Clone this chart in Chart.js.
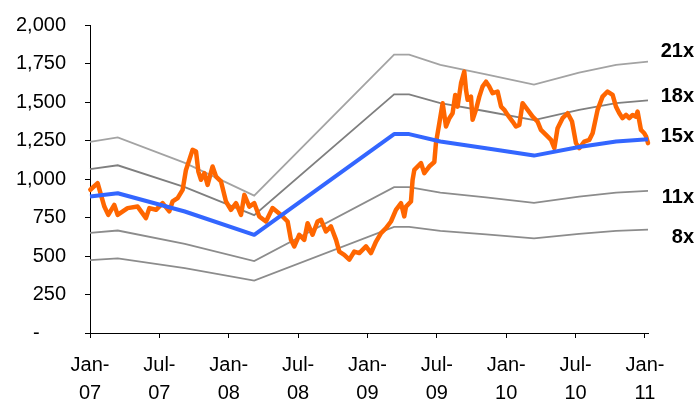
<!DOCTYPE html>
<html>
<head>
<meta charset="utf-8">
<script src="https://cdn.jsdelivr.net/npm/chart.js@4.4.1/dist/chart.umd.min.js"></script>
<style>
  html, body { margin: 0; padding: 0; background: #fff; }
  #wrap { width: 699px; height: 403px; }
</style>
</head>
<body>
<div id="wrap"><canvas id="c" width="699" height="403"></canvas></div>
<script>
// Time is measured in months from Jan-2007.
const tickMonths = [0, 6, 12, 18, 24, 30, 36, 42, 48];
const tickLabels = [["Jan-", "07"], ["Jul-", "07"], ["Jan-", "08"], ["Jul-", "08"], ["Jan-", "09"],
                    ["Jul-", "09"], ["Jan-", "10"], ["Jul-", "10"], ["Jan-", "11"]];
const yTicks = [0, 250, 500, 750, 1000, 1250, 1500, 1750, 2000];

// Forward earnings per share (index points)
const epsMonths = [0, 2.4, 8.2, 14.2, 26.3, 27.6, 30.3, 34.25, 38.4, 42.3, 45.5, 48.26];
const epsValues = [59.1, 60.5, 52.6, 42.5, 86.1, 86.1, 82.9, 80.0, 76.8, 80.5, 82.9, 83.9];

// P/E multiples drawn as bands
const multiples = [21, 18, 15, 11, 8];
const multipleLabels = ["21x", "18x", "15x", "11x", "8x"];

// Index level
const priceMonths = [0.03, 0.66, 1.24, 1.58, 2.10, 2.39, 3.25, 4.12, 4.84, 5.13, 5.71, 6.28, 6.86, 7.14, 7.58,
  8.01, 8.30, 8.59, 8.87, 9.17, 9.37, 9.60, 9.89, 10.17, 10.60, 10.90, 11.33, 11.76, 12.19, 12.63, 13.06,
  13.35, 13.78, 14.21, 14.64, 15.22, 15.79, 16.52, 17.09, 17.38, 17.67, 18.10, 18.53, 18.82, 19.25, 19.68,
  19.98, 20.41, 20.84, 21.28, 21.56, 21.99, 22.43, 22.86, 23.29, 23.87, 24.30, 24.74, 25.17, 25.60, 26.03,
  26.46, 26.90, 27.18, 27.33, 27.76, 27.90, 28.05, 28.63, 28.91, 29.34, 29.78, 29.92, 30.21, 30.50, 30.79,
  31.08, 31.36, 31.59, 31.79, 32.09, 32.37, 32.52, 32.66, 32.95, 33.09, 33.38, 33.67, 33.95, 34.25, 34.53,
  34.82, 35.25, 35.55, 35.83, 36.12, 36.55, 36.84, 37.13, 37.41, 37.85, 38.28, 38.71, 39.00, 39.44, 39.87,
  40.16, 40.44, 40.87, 41.31, 41.69, 42.03, 42.32, 42.75, 43.18, 43.47, 43.90, 44.33, 44.76, 45.20, 45.49,
  45.78, 46.06, 46.36, 46.64, 46.93, 47.22, 47.36, 47.65, 47.94, 48.10, 48.26];
const priceValues = [930, 973, 821, 767, 832, 767, 811, 821, 746, 811, 800, 843, 790, 854, 876,
  930, 1059, 1124, 1189, 1178, 1048, 995, 1038, 962, 1081, 1016, 984, 854, 800, 843, 767,
  897, 821, 843, 757, 724, 811, 767, 724, 605, 562, 638, 605, 713, 638, 724,
  735, 659, 692, 605, 529, 508, 476, 529, 519, 562, 519, 594, 649, 681, 724,
  800, 843, 757, 821, 854, 995, 1059, 1103, 1038, 1081, 1110, 1233, 1362, 1492, 1341,
  1395, 1427, 1546, 1470, 1622, 1697, 1578, 1514, 1535, 1384, 1449, 1535, 1600, 1632, 1600,
  1557, 1568, 1470, 1449, 1416, 1373, 1341, 1351, 1492, 1449, 1405, 1373, 1319, 1286, 1254,
  1200, 1330, 1395, 1427, 1373, 1233, 1200, 1243, 1254, 1297, 1449, 1535, 1568, 1546, 1470,
  1427, 1395, 1416, 1395, 1416, 1405, 1438, 1319, 1297, 1276, 1233];

const FONT = "'Liberation Sans', Arial, sans-serif";
const X_MAX = 48.26;

const toPoints = (xs, ys) => xs.map((x, i) => ({ x: x, y: ys[i] }));

const bandStyles = {
  21: { color: "#a3a3a3", width: 1.8 },
  18: { color: "#7f7f7f", width: 1.8 },
  15: { color: "#3366ff", width: 4 },
  11: { color: "#8c8c8c", width: 1.8 },
  8:  { color: "#8c8c8c", width: 1.8 }
};

const datasets = [];
multiples.forEach((m, i) => {
  if (m === 15) return;
  datasets.push({
    label: multipleLabels[i],
    data: toPoints(epsMonths, epsValues.map(e => e * m)),
    borderColor: bandStyles[m].color,
    borderWidth: bandStyles[m].width,
    pointRadius: 0,
    tension: 0,
    order: 3
  });
});
datasets.push({
  label: "Index",
  data: toPoints(priceMonths, priceValues),
  borderColor: "#ff6600",
  borderWidth: 4.5,
  pointRadius: 0,
  tension: 0,
  borderJoinStyle: "round",
  borderCapStyle: "round",
  order: 2
});
datasets.push({
  label: multipleLabels[multiples.indexOf(15)],
  data: toPoints(epsMonths, epsValues.map(e => e * 15)),
  borderColor: bandStyles[15].color,
  borderWidth: bandStyles[15].width,
  pointRadius: 0,
  tension: 0,
  borderJoinStyle: "round",
  order: 1
});

// Multiple labels at the right-hand end of each band
const labelOffsets = { 21: -10, 18: -4, 15: -3, 11: 7, 8: 8 };
const bandLabels = {
  id: "bandLabels",
  afterDraw(chart) {
    const ctx = chart.ctx;
    const ys = chart.scales.y;
    ctx.save();
    ctx.font = "bold 20px " + FONT;
    ctx.fillStyle = "#000";
    ctx.textAlign = "right";
    ctx.textBaseline = "middle";
    multiples.forEach((m, i) => {
      const last = epsValues[epsValues.length - 1] * m;
      ctx.fillText(multipleLabels[i], 694, ys.getPixelForValue(last) + labelOffsets[m]);
    });
    ctx.restore();
  }
};

new Chart(document.getElementById("c"), {
  type: "line",
  data: { datasets },
  plugins: [bandLabels],
  options: {
    responsive: false,
    animation: false,
    events: [],
    clip: false,
    layout: { padding: { left: 0, top: 25, right: 51, bottom: 0 } },
    plugins: { legend: { display: false }, tooltip: { enabled: false } },
    scales: {
      x: {
        type: "linear",
        min: 0,
        max: X_MAX,
        afterFit(s) { s.height = 70; },
        afterBuildTicks(s) { s.ticks = tickMonths.map(v => ({ value: v })); },
        border: { display: true, color: "#000", width: 1 },
        grid: { display: true, drawOnChartArea: false, drawTicks: true, tickLength: 5, color: "#000" },
        ticks: {
          autoSkip: false,
          maxRotation: 0,
          padding: 13,
          color: "#000",
          font: { family: FONT, size: 20, lineHeight: 1.4 },
          callback: (v) => tickLabels[tickMonths.indexOf(v)] || ""
        }
      },
      y: {
        min: 0,
        max: 2000,
        afterFit(s) {
          s.width = 90;
          // label overflow only needs half a text line above and below
          s.paddingTop = 12;
          s.paddingBottom = 12;
        },
        afterBuildTicks(s) { s.ticks = yTicks.map(v => ({ value: v })); },
        border: { display: true, color: "#000", width: 1 },
        grid: { display: true, drawOnChartArea: false, drawTicks: true, tickLength: 5, color: "#000" },
        ticks: {
          padding: 19,
          color: "#000",
          font: { family: FONT, size: 20 },
          callback: (v) => v === 0 ? "-    \u2009" : v.toLocaleString("en-US")
        }
      }
    }
  }
});
</script>
</body>
</html>
